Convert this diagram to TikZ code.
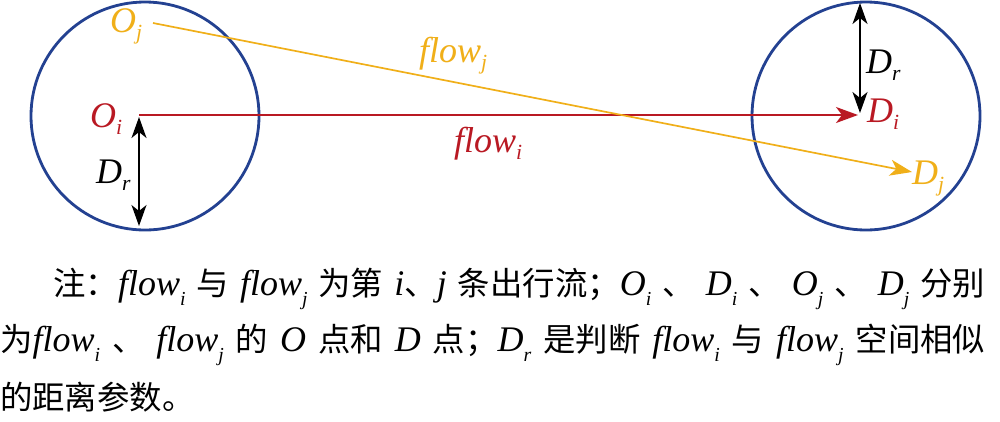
\documentclass[tikz,border=0pt]{standalone}
\usepackage{fontspec}
\usepackage{graphicx}
\usepackage{xcolor}
\setmainfont{Liberation Serif}
\newfontfamily\cjk[Scale=0.9]{Noto Sans CJK SC}
\usetikzlibrary{arrows.meta, positioning}
\definecolor{ringblue}{RGB}{35, 65, 145}
\definecolor{flowred}{RGB}{185, 25, 35}
\definecolor{flowyellow}{RGB}{240, 175, 25}
\newcommand{\sub}[1]{\raisebox{-0.22em}{\scalebox{0.6}{\itshape #1}}}
\newcommand{\capsub}[1]{\raisebox{-0.3em}{\scalebox{0.55}{\itshape #1}}}
\newcommand{\capvar}[2]{\textit{#1}\capsub{#2}}
\tikzstyle{zone} = [circle, draw=ringblue, line width=2.8pt, minimum size=228pt, inner sep=0pt]
\tikzstyle{ptlabel} = [inner sep=0pt, anchor=base west, font=\fontsize{36}{42}\selectfont\itshape]
\tikzstyle{captext} = [inner sep=0pt, anchor=base west, font=\fontsize{36}{42}\selectfont]
\tikzstyle{flowarrow} = [line width=1.7pt, -{Stealth[length=22pt, width=16pt, inset=6pt]}]
\tikzstyle{drarrow} = [line width=1.7pt, {Stealth[length=21pt, width=15pt, inset=6pt]}-{Stealth[length=21pt, width=15pt, inset=6pt]}]

\begin{document}
\begin{tikzpicture}[x=1pt, y=-1pt]
  \useasboundingbox (0,0) rectangle (1000,421);
  % the two circles
  \node[zone] (ozone) at (145,116) {};
  \node[zone] (dzone) at (866,116) {};

  \coordinate (Oi) at (139,115);
  \coordinate (Di) at (858,115);
  \coordinate (Oj) at (153,23);
  \coordinate (Dj) at (912,172);
  \coordinate (lefttop) at (139,117);
  \coordinate (leftbot) at (139,226);
  \coordinate (righttop) at (860,3);
  \coordinate (rightbot) at (860,113);

  % labels
  \node[ptlabel, flowred] (oilab) at (90,127) {O\sub{i}};
  \node[ptlabel, flowyellow] (ojlab) at (110,32) {O\sub{j}};
  \node[ptlabel] (drleft) at (96,183) {D\sub{r}};
  \node[ptlabel] (drright) at (866,73) {D\sub{r}};
  \node[ptlabel, flowred] (dilab) at (867,122) {D\sub{i}};
  \node[ptlabel, flowyellow] (djlab) at (912,184) {D\sub{j}};
  \node[ptlabel, flowyellow] (flowjlab) at (419,62) {flow\sub{j}};
  \node[ptlabel, flowred] (flowilab) at (454,152) {flow\sub{i}};

  \draw[flowarrow, flowred] (Oi) -- (Di);
  \draw[flowarrow, flowyellow] (Oj) -- (Dj);
  \draw[drarrow] (lefttop) -- (leftbot);
  \draw[drarrow] (righttop) -- (rightbot);

  % caption
  \node[captext] (cap1) at (53,295) {\makebox[932pt][s]{{\cjk 注：}\capvar{flow}{i} {\cjk 与} \capvar{flow}{j} {\cjk 为第} \textit{i}{\cjk 、}\textit{j} {\cjk 条出行流；}\capvar{O}{i} {\cjk 、} \capvar{D}{i} {\cjk 、} \capvar{O}{j} {\cjk 、} \capvar{D}{j} {\cjk 分别}}};
  \node[captext] (cap2) at (0,351) {\makebox[985pt][s]{{\cjk 为}\capvar{flow}{i} {\cjk 、} \capvar{flow}{j} {\cjk 的} \textit{O} {\cjk 点和} \textit{D} {\cjk 点；}\capvar{D}{r} {\cjk 是判断} \capvar{flow}{i} {\cjk 与} \capvar{flow}{j} {\cjk 空间相似}}};
  \node[captext] (cap3) at (0,409) {{\cjk 的距离参数。}};
\end{tikzpicture}
\end{document}
